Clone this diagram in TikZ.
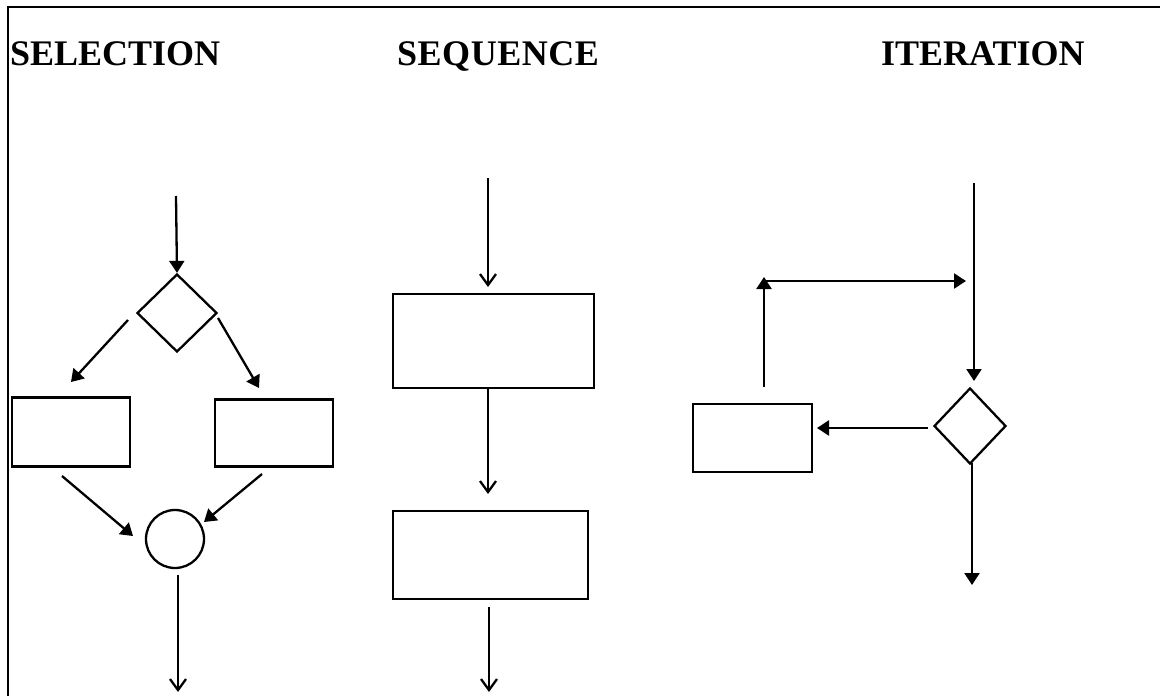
\documentclass[tikz,border=0pt]{standalone}
\usepackage{fontspec}
\setmainfont{Liberation Serif}
\usetikzlibrary{arrows.meta,shapes.geometric}
\begin{document}
\begin{tikzpicture}[x=1pt,y=-1pt,
  line width=2.3pt,
  heading/.style={anchor=base west,inner sep=0pt,font=\fontsize{36}{40}\selectfont\bfseries},
  boxnode/.style={draw,rectangle,inner sep=0pt},
  decision/.style={draw,diamond,inner sep=0pt,minimum width=80pt,minimum height=78pt},
  joint/.style={draw,circle,inner sep=0pt,minimum size=58pt},
  solidarrow/.style={-{Triangle[length=12pt,width=15pt]}},
  openarrow/.style={-{Straight Barb[length=11pt,width=16pt]}},
]
\useasboundingbox (0,0) rectangle (1160,696);

% frame: top and left edges only
\coordinate (fa) at (8,696);
\coordinate (fb) at (8,7);
\coordinate (fc) at (1160,7);
\draw[line width=2.6pt] (fa) -- (fb) -- (fc);

% headings
\node[heading] (hsel) at (9,65) {SELECTION};
\node[heading] (hseq) at (396,65) {\addfontfeatures{LetterSpace=1.5}SEQUENCE};
\node[heading] (hit) at (880,65) {ITERATION};

% ---- selection ----
\coordinate (s0) at (176,196);
\node[decision] (sd) at (177,313) {};
\node[boxnode,minimum width=118pt,minimum height=69pt] (sl) at (71,432) {};
\node[boxnode,minimum width=118pt,minimum height=67pt] (sr) at (274,433) {};
\node[joint] (sj) at (175,539) {};
\coordinate (send) at (178,692);

\coordinate (sla) at (128,320);
\coordinate (slb) at (71,382);
\coordinate (sra) at (218,318);
\coordinate (srb) at (259,388);
\coordinate (sca) at (62,476);
\coordinate (scb) at (133,536);
\coordinate (sda) at (262,474);
\coordinate (sdb) at (204,522);
\coordinate (sjo) at (178,575);

\draw[solidarrow] (s0) -- (sd.north);
\draw[solidarrow] (sla) -- (slb);
\draw[solidarrow] (sra) -- (srb);
\draw[solidarrow] (sca) -- (scb);
\draw[solidarrow] (sda) -- (sdb);
\draw[openarrow] (sjo) -- (send);

% ---- sequence ----
\coordinate (q0) at (488,178);
\coordinate (q1t) at (488,287);
\node[boxnode,minimum width=201pt,minimum height=94pt] (q1) at (493.5,341) {};
\node[boxnode,minimum width=195pt,minimum height=88pt] (q2) at (490.5,555) {};
\coordinate (q2t) at (488,494);
\coordinate (q3a) at (489,607);
\coordinate (q3b) at (489,692);

\draw[openarrow] (q0) -- (q1t);
\draw[openarrow] (q0 |- q1.south) -- (q2t);
\draw[openarrow] (q3a) -- (q3b);

% ---- iteration ----
\coordinate (i0) at (974,183);
\coordinate (i0b) at (974,381);
\node[decision,minimum width=72pt,minimum height=76pt] (id) at (970,426) {};
\node[boxnode,minimum width=119pt,minimum height=68pt] (ib) at (752.5,438) {};
\coordinate (iup) at (764,387);
\coordinate (icorner) at (764,277);
\coordinate (ih) at (764,281);
\coordinate (ihe) at (966,281);
\coordinate (ileft) at (928,428);
\coordinate (ilb) at (817,428);
\coordinate (ida) at (972,463);
\coordinate (iend) at (972,585);

\draw[solidarrow] (i0) -- (i0b);
\draw[solidarrow] (iup) -- (icorner);
\draw[solidarrow] (ih) -- (ihe);
\draw[solidarrow] (ileft) -- (ilb);
\draw[solidarrow] (ida) -- (iend);
\end{tikzpicture}
\end{document}
